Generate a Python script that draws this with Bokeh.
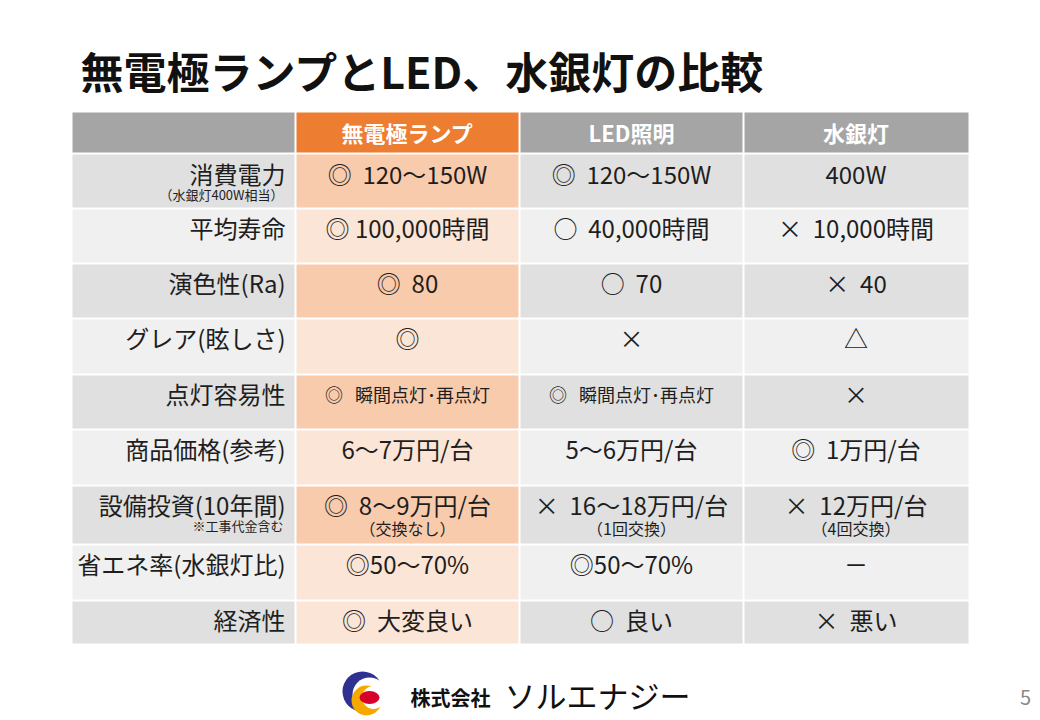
from bokeh.plotting import figure
from bokeh.models import Range1d, ColumnDataSource
from bokeh.core.properties import value
from bokeh.embed import file_html
from bokeh.resources import INLINE

# ---------------- data ----------------
title = "無電極ランプとLED、水銀灯の比較"
headers = ["無電極ランプ", "LED照明", "水銀灯"]
categories = ["消費電力", "平均寿命", "演色性(Ra)", "グレア(眩しさ)", "点灯容易性",
              "商品価格(参考)", "設備投資(10年間)", "省エネ率(水銀灯比)", "経済性"]
category_notes = ["（水銀灯400W相当）", "", "", "", "", "", "※工事代金含む", "", ""]
electrodeless = ["◎\u00a0\u00a0120～150W", "◎ 100,000時間", "◎\u00a0\u00a080", "◎",
                 "◎\u00a0\u00a0\u00a0瞬間点灯･再点灯", "6～7万円/台", "◎\u00a0\u00a08～9万円/台",
                 "◎50～70%", "◎\u00a0\u00a0大変良い"]
led = ["◎\u00a0\u00a0120～150W", "○\u00a0\u00a040,000時間", "○\u00a0\u00a070", "×",
       "◎\u00a0\u00a0\u00a0瞬間点灯･再点灯", "5～6万円/台", "×\u00a0\u00a016～18万円/台",
       "◎50～70%", "○\u00a0\u00a0良い"]
mercury = ["400W", "×\u00a0\u00a010,000時間", "×\u00a0\u00a040", "△", "×",
           "◎\u00a0\u00a01万円/台", "×\u00a0\u00a012万円/台", "－", "×\u00a0\u00a0悪い"]
cell_notes = [["", "", "", "", "", "", "（交換なし）", "", ""],
              ["", "", "", "", "", "", "（1回交換）", "", ""],
              ["", "", "", "", "", "", "（4回交換）", "", ""]]
company_prefix = "株式会社"
company_name = "ソルエナジー"
page_number = "5"

# ---------------- layout ----------------
FONT = "Noto Sans CJK JP"
W, H = 1040, 720
col_edges = [72, 295, 519, 743, 968]
header_top, header_bottom = 112, 152
row_edges = [154, 208, 263, 318, 374, 429, 485, 544, 600, 643]
label_right = 285

dark_gray, light_gray = "#e0e0e0", "#f0f0f0"
dark_peach, light_peach = "#f8cbad", "#fbe5d6"
row_shade = [1, 0, 1, 0, 1, 0, 1, 0, 1]
peach_shade = [1, 0, 1, 0, 1, 0, 1, 0, 0]

p = figure(width=W, height=H, x_range=Range1d(0, W), y_range=Range1d(H, 0),
           output_backend="svg", toolbar_location=None, x_axis_type=None, y_axis_type=None,
           min_border=0, background_fill_color="white", border_fill_color="white")
p.outline_line_color = None
p.grid.visible = False

def cell_lr(ci):
    l = col_edges[ci] + (1 if ci > 0 else 0)
    r = col_edges[ci + 1] - (1 if ci < 3 else 0)
    return l, r

# header cells
hl, hr, hc = [], [], []
for ci in range(4):
    l, r = cell_lr(ci)
    hl.append(l); hr.append(r)
    hc.append("#ed7d31" if ci == 1 else "#a5a5a5")
p.quad(left=hl, right=hr, top=[header_top] * 4, bottom=[header_bottom] * 4,
       fill_color=hc, line_color=None)

# body cells
bl, br, bt, bb, bc = [], [], [], [], []
n = len(categories)
for ri in range(n):
    t = row_edges[ri] + (1 if ri > 0 else 0)
    b = row_edges[ri + 1] - (1 if ri < n - 1 else 0)
    for ci in range(4):
        l, r = cell_lr(ci)
        bl.append(l); br.append(r); bt.append(t); bb.append(b)
        if ci == 1:
            bc.append(dark_peach if peach_shade[ri] else light_peach)
        else:
            bc.append(dark_gray if row_shade[ri] else light_gray)
p.quad(left=bl, right=br, top=bt, bottom=bb, fill_color=bc, line_color=None)

# title
p.text(x=[80], y=[69], text=[title], text_font=value(FONT), text_font_size=value("43px"),
       text_font_style="bold", text_color="#111111", text_align="left", text_baseline="middle")

# header texts
centers = [(col_edges[i] + col_edges[i + 1]) / 2 for i in range(1, 4)]
p.text(x=centers, y=[131] * 3, text=headers, text_font=value(FONT),
       text_font_size=value("22px"), text_font_style="bold", text_color="white",
       text_align="center", text_baseline="middle")

main_y = [row_edges[i] + 19 for i in range(n)]
note_y = [row_edges[i] + 42 for i in range(n)]

# category labels
p.text(x=[label_right] * n, y=main_y, text=categories, text_font=value(FONT),
       text_font_size=value("24px"), text_color="#1e1e1e", text_align="right",
       text_baseline="middle")
nx, ny, nt = [], [], []
for i, s in enumerate(category_notes):
    if s:
        nx.append(label_right - 2); ny.append(note_y[i] - 2); nt.append(s)
p.text(x=nx, y=ny, text=nt, text_font=value(FONT), text_font_size=value("13px"),
       text_color="#1e1e1e", text_align="right", text_baseline="middle")

# cell values
for ci, col in enumerate([electrodeless, led, mercury]):
    sizes = ["18px" if "瞬間" in s else "24px" for s in col]
    src = ColumnDataSource(dict(x=[centers[ci]] * n, y=main_y, t=col, s=sizes))
    p.text(x="x", y="y", text="t", text_font_size="s", source=src, text_font=value(FONT),
           text_color="#1e1e1e", text_align="center", text_baseline="middle")
    sx, sy, st = [], [], []
    for ri, s in enumerate(cell_notes[ci]):
        if s:
            sx.append(centers[ci]); sy.append(note_y[ri]); st.append(s)
    p.text(x=sx, y=sy, text=st, text_font=value(FONT), text_font_size=value("16px"),
           text_color="#1e1e1e", text_align="center", text_baseline="middle")

# logo
p.circle(x=[362], y=[691], radius=20, fill_color="#2e3192", line_color=None)
p.circle(x=[369], y=[694], radius=17, fill_color="white", line_color=None)
p.circle(x=[366], y=[700], radius=15, fill_color="#f5a800", line_color=None)
p.circle(x=[373], y=[697], radius=11.5, fill_color="white", line_color=None)
p.ellipse(x=[369], y=[697], width=20, height=13, fill_color="#d7002a", line_color=None)

p.text(x=[410], y=[697], text=[company_prefix], text_font=value(FONT),
       text_font_size=value("20px"), text_font_style="bold", text_color="#111111",
       text_align="left", text_baseline="middle")
p.text(x=[504], y=[694], text=[company_name], text_font=value(FONT),
       text_font_size=value("31px"), text_color="#111111",
       text_align="left", text_baseline="middle")
p.text(x=[1025], y=[697], text=[page_number], text_font=value(FONT),
       text_font_size=value("20px"), text_color="#888888",
       text_align="center", text_baseline="middle")

open("out.html", "w").write(file_html(p, INLINE))
